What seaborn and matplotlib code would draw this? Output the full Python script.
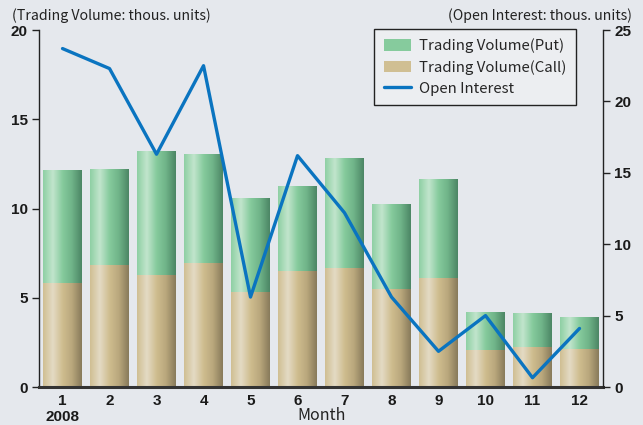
import numpy as np
import pandas as pd
import matplotlib
matplotlib.use('Agg')
import matplotlib.pyplot as plt
from matplotlib.colors import LinearSegmentedColormap
from matplotlib.patches import Patch
from matplotlib.lines import Line2D
import seaborn as sns

# data (thousand units)
months = ['1\n2008', '2', '3', '4', '5', '6', '7', '8', '9', '10', '11', '12']
vol_call = [5.83, 6.83, 6.27, 6.95, 5.34, 6.50, 6.67, 5.47, 6.10, 2.07, 2.24, 2.13]
vol_put = [6.33, 5.37, 6.93, 6.10, 5.26, 4.76, 6.16, 4.78, 5.55, 2.13, 1.89, 1.79]
open_interest = [23.7, 22.3, 16.3, 22.5, 6.3, 16.2, 12.2, 6.3, 2.5, 5.0, 0.65, 4.1]

df = pd.DataFrame({'Month': months, 'Call': vol_call, 'Put': vol_put, 'OI': open_interest})
df['Total'] = df['Call'] + df['Put']

sns.set_theme(style='white')
plt.rcParams['font.family'] = ['Liberation Sans Narrow', 'Liberation Sans', 'DejaVu Sans']
bg = '#e5e8ed'

fig = plt.figure(figsize=(6.43, 4.25), dpi=100, facecolor=bg)
ax = fig.add_axes([0.0607, 0.0894, 0.8771, 0.8400])
ax.set_facecolor(bg)

sns.barplot(data=df, x='Month', y='Total', color='#7cc597', width=0.82, ax=ax,
            saturation=1, edgecolor='none')
n_put = len(ax.patches)
sns.barplot(data=df, x='Month', y='Call', color='#cbb888', width=0.82, ax=ax,
            saturation=1, edgecolor='none')

green = LinearSegmentedColormap.from_list('g', ['#8fd0a4', '#c2e5cd', '#86cb9d', '#6fb388', '#4c8665'])
tan = LinearSegmentedColormap.from_list('t', ['#d0bf93', '#e4dbc5', '#cfbd8f', '#b9a77c', '#887b5b'])
grad = np.linspace(0, 1, 64).reshape(1, -1)
for i, p in enumerate(ax.patches):
    x0, y0 = p.get_x(), p.get_y()
    w, h = p.get_width(), p.get_height()
    cmap = green if i < n_put else tan
    im = ax.imshow(grad, cmap=cmap, aspect='auto', extent=(x0, x0 + w, y0, y0 + h),
                   zorder=p.get_zorder() + 0.1 + (0.2 if i >= n_put else 0), interpolation='bicubic')
    im.set_clip_path(p)

ax.set_xlim(-0.5, 11.5)
ax.set_ylim(0, 20)
ax.set_yticks([0, 5, 10, 15, 20])
ax.set_xlabel('')
ax.set_ylabel('')
for s in ['top', 'right']:
    ax.spines[s].set_visible(False)
ax.spines['left'].set_color('#222222')
ax.spines['left'].set_linewidth(1.0)
ax.spines['bottom'].set_color('#333333')
ax.spines['bottom'].set_linewidth(2.2)
ax.tick_params(axis='y', direction='out', length=5, width=1, color='#222222', left=True, pad=3)
ax.tick_params(axis='x', length=0, pad=5)
for lab in ax.get_yticklabels() + ax.get_xticklabels():
    lab.set_fontweight('bold')
    lab.set_fontsize(11)
    lab.set_color('#1a1a1a')

ax2 = ax.twinx()
sns.lineplot(x=np.arange(len(months)), y=df['OI'], ax=ax2, color='#0a74c0', linewidth=2.4,
             solid_joinstyle='round', solid_capstyle='round')
ax2.set_ylim(0, 25)
ax2.set_yticks([0, 5, 10, 15, 20, 25])
ax2.set_ylabel('')
for s in ['top', 'left', 'bottom']:
    ax2.spines[s].set_visible(False)
ax2.spines['right'].set_color('#222222')
ax2.spines['right'].set_linewidth(1.0)
ax2.tick_params(axis='y', direction='out', length=5, width=1, color='#222222', right=True, pad=3)
for lab in ax2.get_yticklabels():
    lab.set_fontweight('bold')
    lab.set_fontsize(11)
    lab.set_color('#1a1a1a')

txt_font = ['Noto Sans CJK JP', 'DejaVu Sans']
fig.text(12 / 643, 1 - 16 / 425, '(Trading Volume: thous. units)', ha='left', va='center',
         fontsize=10.2, family=txt_font, color='#222222')
fig.text(632 / 643, 1 - 16 / 425, '(Open Interest: thous. units)', ha='right', va='center',
         fontsize=10.2, family=txt_font, color='#222222')
fig.text(322 / 643, 1 - 415 / 425, 'Month', ha='center', va='center',
         fontsize=11.5, family=txt_font, color='#222222')

handles = [Patch(facecolor='#86cb9d', edgecolor='none'),
           Patch(facecolor='#d0bf93', edgecolor='none'),
           Line2D([0], [0], color='#0a74c0', lw=2.4)]
leg = ax2.legend(handles, ['Trading Volume(Put)', 'Trading Volume(Call)', 'Open Interest'],
                 loc='upper right', bbox_to_anchor=(0.952, 1.003), frameon=True, fancybox=False,
                 prop={'family': txt_font, 'size': 10.8}, handlelength=1.8, handleheight=0.8,
                 borderpad=0.65, labelspacing=0.45, handletextpad=0.55, borderaxespad=0)
leg.get_frame().set_edgecolor('#222222')
leg.get_frame().set_linewidth(1.0)
leg.get_frame().set_facecolor('#eceef1')
leg.get_frame().set_alpha(1)

fig.savefig('out.png', dpi=100, facecolor=bg)
